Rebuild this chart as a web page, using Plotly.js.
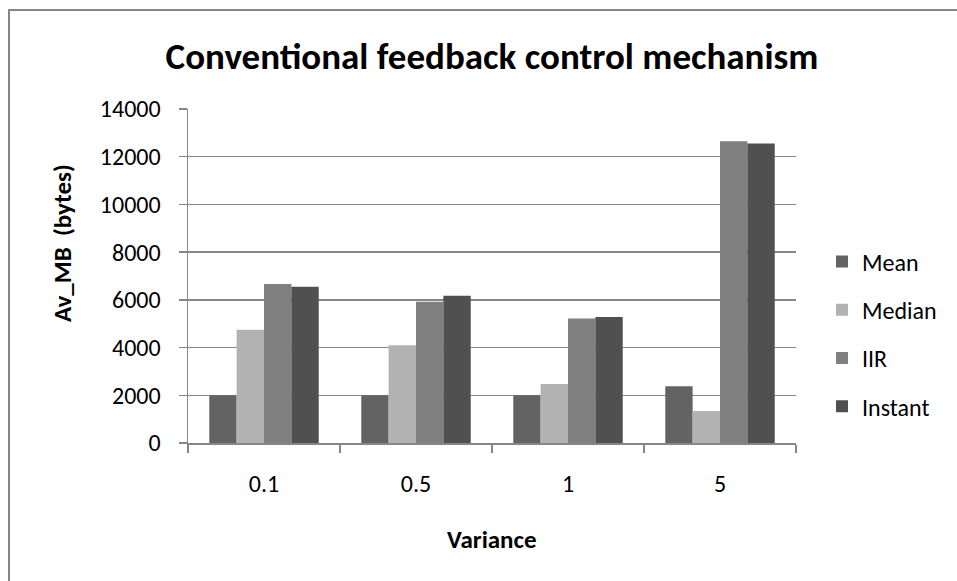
<!DOCTYPE html>
<html>
<head>
<meta charset="utf-8">
<script src="https://cdn.plot.ly/plotly-3.0.1.min.js"></script>
<style>
  html, body { margin: 0; padding: 0; background: #fff; }
  #frame { position: absolute; left: 8px; top: 9px; width: 1000px; height: 700px; border: 2px solid #868686; box-sizing: border-box; }
  #chart { position: absolute; left: 0; top: 0; width: 957px; height: 581px; }
</style>
</head>
<body>
<div id="frame"></div>
<div id="chart"></div>
<script>
const categories = ["0.1", "0.5", "1", "5"];
const seriesNames = ["Mean", "Median", "IIR", "Instant"];
const meanVals = [2000, 2000, 2000, 2380];
const medianVals = [4750, 4100, 2470, 1340];
const iirVals = [6660, 5920, 5220, 12650];
const instantVals = [6550, 6170, 5280, 12550];
const colors = ["#636363", "#b2b2b2", "#808080", "#505050"];
const allVals = [meanVals, medianVals, iirVals, instantVals];

const FONT = "Carlito, Lato, 'Liberation Sans', sans-serif";

const traces = seriesNames.map((name, i) => ({
  type: "bar",
  name: name,
  x: categories,
  y: allVals[i],
  legendgroup: name,
  marker: { color: colors[i], line: { width: 0 } },
  hoverinfo: "none"
}));

const layout = {
  width: 957,
  height: 581,
  margin: { l: 188, r: 161, t: 109, b: 138 },
  paper_bgcolor: "rgba(0,0,0,0)",
  plot_bgcolor: "rgba(0,0,0,0)",
  font: { family: FONT, size: 24, color: "#000" },
  title: {
    text: "<b>Conventional feedback control mechanism</b>",
    font: { family: FONT, size: 37, color: "#000" },
    x: 0.5, xanchor: "center", xref: "paper",
    y: 1 - 56 / 581, yref: "container", yanchor: "middle"
  },
  barmode: "group",
  bargap: 0.28,
  bargroupgap: 0,
  xaxis: {
    type: "category",
    showline: true, linecolor: "#868686", linewidth: 1.5,
    ticks: "outside", tickson: "boundaries", ticklen: 8, tickcolor: "#868686", tickwidth: 1.5,
    tickfont: { family: FONT, size: 24 },
    ticklabelstandoff: 19,
    showgrid: false
  },
  yaxis: {
    range: [0, 14000], dtick: 2000, tick0: 0,
    tickformat: "d",
    showline: true, linecolor: "#868686", linewidth: 1.5,
    ticks: "outside", ticklen: 8, tickcolor: "#868686", tickwidth: 1.5,
    showgrid: true, gridcolor: "#868686", gridwidth: 1.3,
    zeroline: false,
    tickfont: { family: FONT, size: 24 },
    ticklabelstandoff: 13
  },
  annotations: [{
    text: "<b>Av_MB  (bytes)</b>",
    textangle: -90,
    xref: "paper", yref: "paper",
    x: (62 - 188) / 608, y: (443 - 243) / 334,
    xanchor: "center", yanchor: "middle",
    showarrow: false,
    font: { family: FONT, size: 25, color: "#000" }
  }, {
    text: "<b>Variance</b>",
    xref: "paper", yref: "paper",
    x: 0.5, y: (443 - 539) / 334,
    xanchor: "center", yanchor: "middle",
    showarrow: false,
    font: { family: FONT, size: 25, color: "#000" }
  }],
  legend: {
    x: (822 - 188) / 608, xanchor: "left",
    y: (443 - 334) / 334, yanchor: "middle",
    traceorder: "grouped",
    tracegroupgap: 14,
    font: { family: FONT, size: 24 },
    bgcolor: "rgba(0,0,0,0)"
  },
  showlegend: true
};

Plotly.newPlot("chart", traces, layout, { staticPlot: true });
</script>
</body>
</html>
